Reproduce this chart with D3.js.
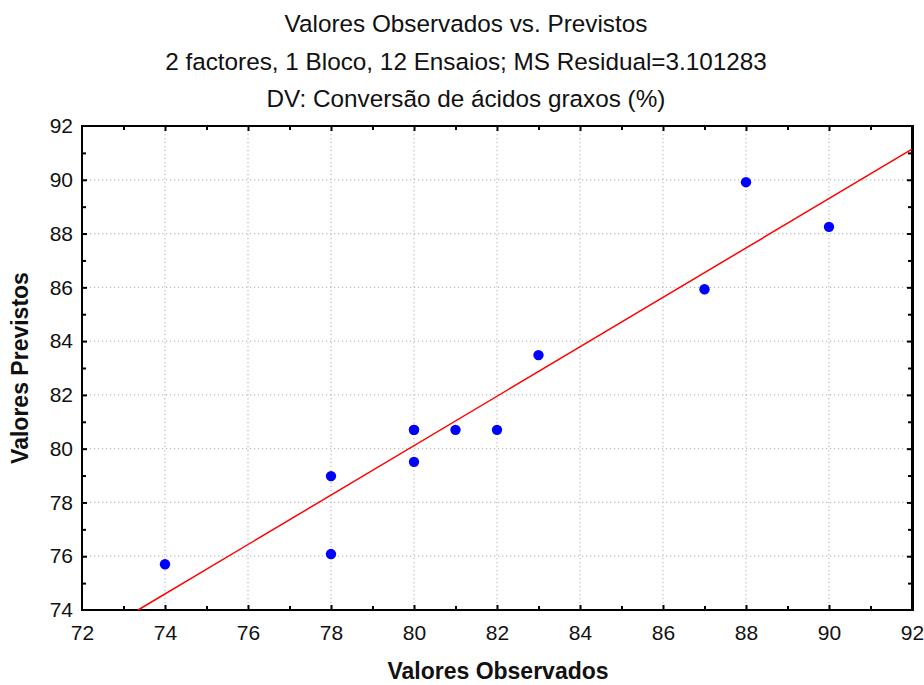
<!DOCTYPE html>
<html>
<head>
<meta charset="utf-8">
<script src="https://cdn.jsdelivr.net/npm/d3@7/dist/d3.min.js"></script>
<style>
  html, body { margin: 0; padding: 0; background: #fff; }
  svg { display: block; font-family: "Liberation Sans", Arial, sans-serif; }
</style>
</head>
<body>
<svg id="chart" width="924" height="685"></svg>
<script>
// Observed vs. predicted values
const observed  = [74, 78, 78, 80, 80, 80, 81, 82, 83, 87, 88, 90];
const predicted = [75.70, 76.08, 78.98, 80.70, 80.70, 79.51, 80.70, 80.70, 83.48, 85.93, 89.91, 88.25];

// Fitted line endpoints (observed, predicted)
const fitX = [73.35, 92];
const fitY = [74, 91.14];

const titleLines = [
  "Valores Observados vs. Previstos",
  "2 factores, 1 Bloco, 12 Ensaios; MS Residual=3.101283",
  "DV: Conversão de ácidos graxos (%)"
];
const xTitle = "Valores Observados";
const yTitle = "Valores Previstos";
const xDomain = [72, 92];
const yDomain = [74, 92];
const majorTicksX = d3.range(72, 93, 2);
const majorTicksY = d3.range(74, 93, 2);

const svg = d3.select("#chart");
const plotL = 82, plotR = 912, plotT = 126, plotB = 610;

const x = d3.scaleLinear().domain(xDomain).range([plotL, plotR]);
const y = d3.scaleLinear().domain(yDomain).range([plotB, plotT]);

// Titles
svg.selectAll("text.title").data(titleLines).join("text")
  .attr("class", "title")
  .attr("x", 466)
  .attr("y", (d, i) => 32 + i * 37.5)
  .attr("text-anchor", "middle")
  .attr("font-size", 24.3)
  .attr("fill", "#111")
  .text(d => d);

// Grid lines
const grid = svg.append("g").attr("stroke", "#bdbdbd").attr("stroke-width", 1.2)
  .attr("stroke-dasharray", "1.2,2.8");
grid.selectAll("line.gx").data(majorTicksX.slice(1, -1)).join("line")
  .attr("class", "gx")
  .attr("x1", d => x(d)).attr("x2", d => x(d))
  .attr("y1", plotT).attr("y2", plotB);
grid.selectAll("line.gy").data(majorTicksY.slice(1, -1)).join("line")
  .attr("class", "gy")
  .attr("y1", d => y(d)).attr("y2", d => y(d))
  .attr("x1", plotL).attr("x2", plotR);

// Axes with inward ticks on all four sides
const minorX = d3.range(73, 92, 2);
const minorY = d3.range(75, 92, 2);

function drawAxis(axisFn, scale, values, len, transform) {
  const g = svg.append("g").attr("transform", transform)
    .call(axisFn(scale).tickValues(values).tickSize(-len).tickFormat(""));
  g.select(".domain").remove();
  g.selectAll(".tick line").attr("stroke", "#000").attr("stroke-width", 2);
  return g;
}
[[d3.axisBottom, x, `translate(0,${plotB})`], [d3.axisTop, x, `translate(0,${plotT})`]]
  .forEach(([fn, s, t]) => {
    drawAxis(fn, s, majorTicksX.slice(1, -1), 5, t);
    drawAxis(fn, s, minorX, 4, t);
  });
[[d3.axisLeft, y, `translate(${plotL},0)`], [d3.axisRight, y, `translate(${plotR},0)`]]
  .forEach(([fn, s, t]) => {
    drawAxis(fn, s, majorTicksY.slice(1, -1), 5, t);
    drawAxis(fn, s, minorY, 4, t);
  });

// Tick labels
const xLabels = svg.append("g")
  .attr("transform", `translate(0,${plotB})`)
  .call(d3.axisBottom(x).tickValues(majorTicksX).tickSize(0).tickPadding(15));
xLabels.select(".domain").remove();
xLabels.selectAll("text").attr("font-size", 21).attr("font-family", "Liberation Sans, Arial, sans-serif")
  .attr("fill", "#111");

const yLabels = svg.append("g")
  .attr("transform", `translate(${plotL},0)`)
  .call(d3.axisLeft(y).tickValues(majorTicksY).tickSize(0).tickPadding(9));
yLabels.select(".domain").remove();
yLabels.selectAll("text").attr("font-size", 21).attr("font-family", "Liberation Sans, Arial, sans-serif")
  .attr("fill", "#111");

// Frame
const frame = svg.append("g").attr("stroke", "#000").attr("fill", "none");
frame.append("line").attr("x1", plotL).attr("x2", plotL).attr("y1", plotT - 1).attr("y2", plotB + 1).attr("stroke-width", 2);
frame.append("line").attr("x1", plotL - 1).attr("x2", plotR).attr("y1", plotB).attr("y2", plotB).attr("stroke-width", 2);
frame.append("line").attr("x1", plotL - 1).attr("x2", plotR).attr("y1", plotT).attr("y2", plotT).attr("stroke-width", 2);
frame.append("line").attr("x1", plotR + 0.5).attr("x2", plotR + 0.5).attr("y1", plotT - 1).attr("y2", plotB + 1).attr("stroke-width", 3);

// Fitted line
const plot = svg.append("g");
plot.append("line")
  .attr("x1", x(fitX[0])).attr("y1", y(fitY[0]))
  .attr("x2", x(fitX[1])).attr("y2", y(fitY[1]))
  .attr("stroke", "#ff0000").attr("stroke-width", 1.5);

// Points
plot.selectAll("circle").data(observed.map((o, i) => [o, predicted[i]])).join("circle")
  .attr("cx", d => x(d[0])).attr("cy", d => y(d[1]))
  .attr("r", 5.2)
  .attr("fill", "#0000ff");

// Axis titles
svg.append("text")
  .attr("x", 498).attr("y", 679)
  .attr("text-anchor", "middle")
  .attr("font-size", 23).attr("font-weight", "bold").attr("fill", "#111")
  .text(xTitle);
svg.append("text")
  .attr("transform", `translate(28,${(plotT + plotB) / 2}) rotate(-90)`)
  .attr("text-anchor", "middle")
  .attr("font-size", 23).attr("font-weight", "bold").attr("fill", "#111")
  .text(yTitle);
</script>
</body>
</html>
